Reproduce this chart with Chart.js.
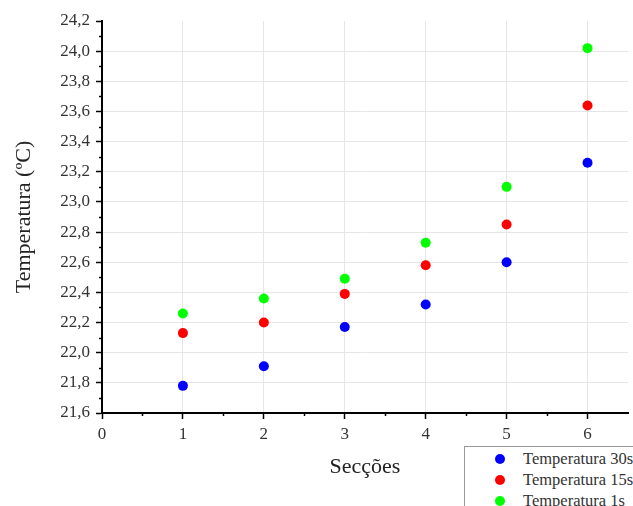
<!DOCTYPE html>
<html>
<head>
<meta charset="utf-8">
<script src="https://cdn.jsdelivr.net/npm/chart.js@4/dist/chart.umd.min.js"></script>
<style>
  html, body { margin: 0; padding: 0; background: #fff; overflow: hidden; }
  #wrap { position: relative; width: 633px; height: 506px; overflow: hidden; }
  #legend {
    position: absolute; left: 464px; top: 446px; width: 200px; height: 80px;
    border: 1px solid #9a9a9a; background: #fff; box-sizing: border-box;
    font-family: "Liberation Serif", "Times New Roman", serif; font-size: 16.5px; color: #333;
  }
  #legend .row { position: absolute; left: 0; height: 20px; line-height: 20px; white-space: nowrap; }
  #legend .dot { position: absolute; left: 30px; top: 5px; width: 10px; height: 10px; border-radius: 50%; }
  #legend .txt { position: absolute; left: 58px; top: 0; }
</style>
</head>
<body>
<div id="wrap">
  <canvas id="c" width="633" height="506"></canvas>
  <div id="legend"></div>
</div>
<script>
// Temperature readings per section for three measurement times
const seccoes = [1, 2, 3, 4, 5, 6];
const temp30s = [21.78, 21.91, 22.17, 22.32, 22.60, 23.26];
const temp15s = [22.13, 22.20, 22.39, 22.58, 22.85, 23.64];
const temp1s  = [22.26, 22.36, 22.49, 22.73, 23.10, 24.02];
const seriesLabels = ['Temperatura 30s', 'Temperatura 15s', 'Temperatura 1s'];
const seriesColors = ['#0000ff', '#ff0000', '#00ff00'];

const serif = "'Liberation Serif', 'Times New Roman', serif";

function toPoints(vals) {
  return seccoes.map((s, i) => ({ x: s, y: vals[i] }));
}

const datasets = [temp30s, temp15s, temp1s].map((vals, i) => ({
  label: seriesLabels[i],
  data: toPoints(vals),
  backgroundColor: seriesColors[i],
  borderColor: seriesColors[i],
  pointRadius: 5,
  pointHoverRadius: 5,
  borderWidth: 0,
  showLine: false
}));

// Minor ticks between the major ones, drawn outward from the axes
const minorTicks = {
  id: 'minorTicks',
  afterDraw(chart) {
    const ctx = chart.ctx;
    const xs = chart.scales.x, ys = chart.scales.y;
    ctx.save();
    ctx.strokeStyle = '#000';
    ctx.lineWidth = 1.5;
    ctx.beginPath();
    for (let v = 21.7; v < 24.2; v += 0.2) {
      const py = Math.round(ys.getPixelForValue(v)) + 0.5;
      ctx.moveTo(xs.left - 3, py);
      ctx.lineTo(xs.left, py);
    }
    for (let v = 0.5; v < xs.max; v += 1) {
      const px = Math.round(xs.getPixelForValue(v)) + 0.5;
      ctx.moveTo(px, ys.bottom);
      ctx.lineTo(px, ys.bottom + 3);
    }
    ctx.stroke();
    ctx.restore();
  }
};

new Chart(document.getElementById('c'), {
  type: 'scatter',
  data: { datasets },
  plugins: [minorTicks],
  options: {
    responsive: false,
    animation: false,
    layout: { padding: { top: 21, right: 1, left: 0, bottom: 0 } },
    plugins: { legend: { display: false }, tooltip: { enabled: false } },
    scales: {
      x: {
        type: 'linear',
        min: 0,
        max: 6.5,
        afterFit(scale) { scale.height = 93; },
        ticks: {
          stepSize: 1,
          includeBounds: false,
          color: '#333',
          font: { family: serif, size: 17 },
          padding: 5,
          callback: v => String(v)
        },
        grid: {
          color: ctx => (ctx.tick && ctx.tick.value === 0) ? 'rgba(0,0,0,0)' : '#e6e6e6',
          tickColor: '#000',
          tickLength: 6,
          lineWidth: 1,
          tickWidth: 1.5
        },
        border: { display: true, color: '#000', width: 2 },
        title: {
          display: true,
          text: 'Secções',
          color: '#222',
          font: { family: serif, size: 22 },
          padding: { top: 0, bottom: 26 }
        }
      },
      y: {
        type: 'linear',
        min: 21.6,
        max: 24.2,
        afterFit(scale) { scale.width = 102; },
        ticks: {
          stepSize: 0.2,
          color: '#333',
          font: { family: serif, size: 17 },
          padding: 6,
          callback: v => v.toFixed(1).replace('.', ',')
        },
        grid: {
          color: ctx => {
            const v = ctx.tick ? ctx.tick.value : 0;
            return (Math.abs(v - 24.2) < 1e-6 || Math.abs(v - 21.6) < 1e-6) ? 'rgba(0,0,0,0)' : '#e6e6e6';
          },
          tickColor: '#000',
          tickLength: 6,
          lineWidth: 1,
          tickWidth: 1.5
        },
        border: { display: true, color: '#000', width: 2 },
        title: {
          display: true,
          text: 'Temperatura (ºC)',
          color: '#222',
          font: { family: serif, size: 22 },
          padding: { top: 11, bottom: 0 }
        }
      }
    }
  }
});

// Legend box in the lower-right corner
const legend = document.getElementById('legend');
seriesLabels.forEach((lab, i) => {
  const row = document.createElement('div');
  row.className = 'row';
  row.style.top = (2 + i * 20.8) + 'px';
  row.innerHTML = '<span class="dot" style="background:' + seriesColors[i] + '"></span><span class="txt">' + lab + '</span>';
  legend.appendChild(row);
});
</script>
</body>
</html>
